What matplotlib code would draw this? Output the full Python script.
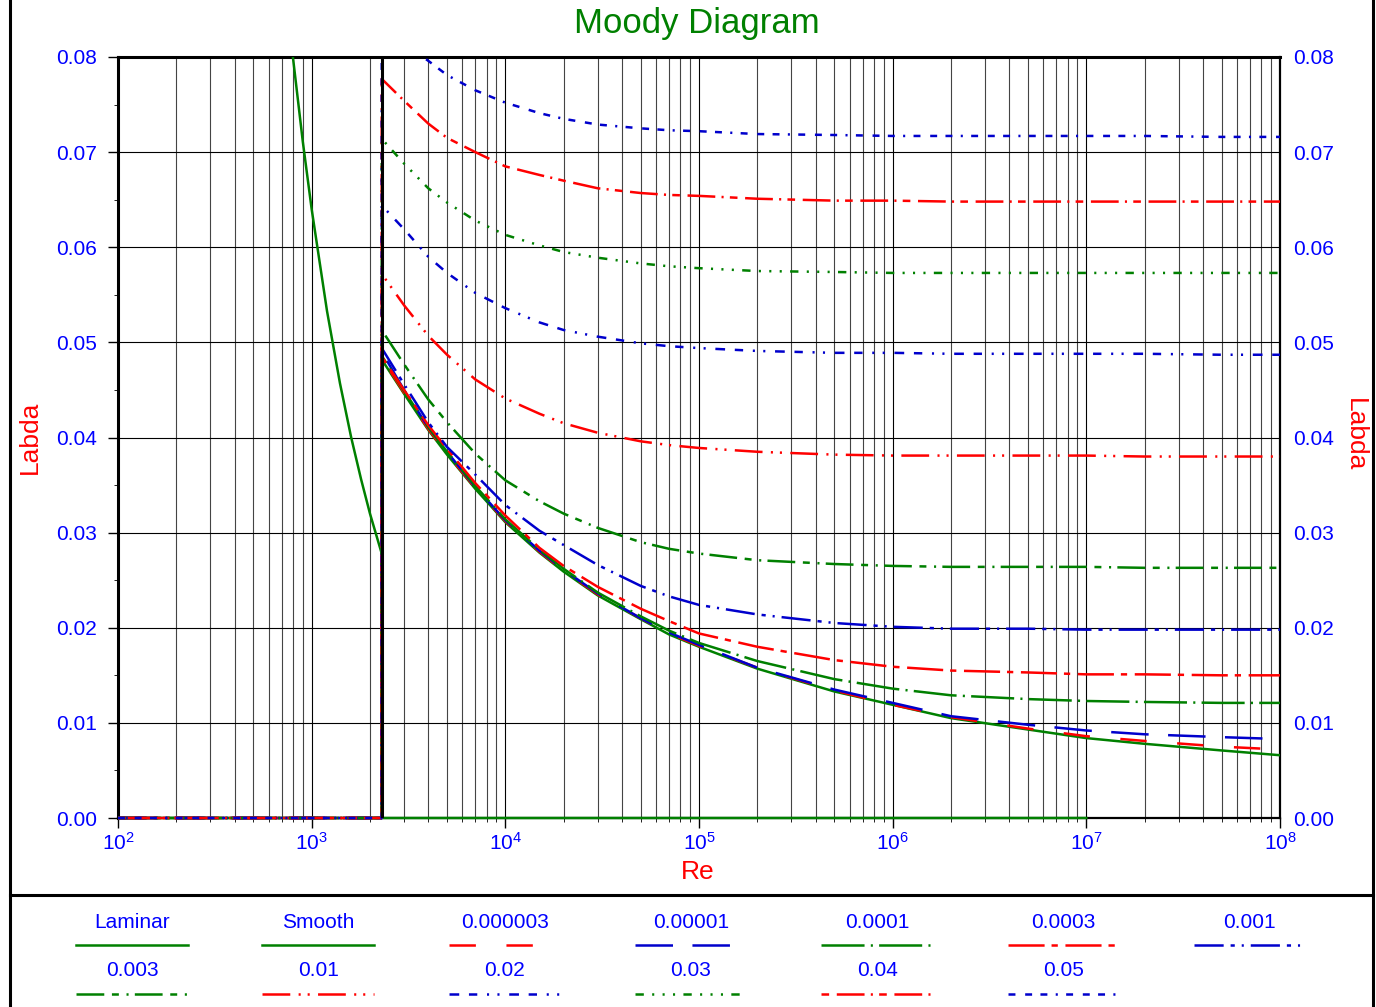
import matplotlib
matplotlib.use("Agg")
import matplotlib.pyplot as plt
from matplotlib.lines import Line2D
from matplotlib.patches import Rectangle
from matplotlib.ticker import FixedLocator, LogLocator, MultipleLocator, NullFormatter, FormatStrFormatter

plt.rcParams['font.family'] = ['Liberation Sans', 'DejaVu Sans']
plt.rcParams['mathtext.fontset'] = 'custom'
plt.rcParams['mathtext.rm'] = 'Liberation Sans'
plt.rcParams['mathtext.it'] = 'Liberation Sans:italic'
plt.rcParams['mathtext.bf'] = 'Liberation Sans:bold'
plt.rcParams['lines.scale_dashes'] = False

# --- data ---
re_crit = 2300
re_zero = [100, 2300]          # turbulent curves sit on 0 below re_crit
re_decades = [1e2, 1e3, 1e4, 1e5, 1e6, 1e7, 1e8]

re_laminar = [100, 200, 400, 600, 700, 800, 900, 1000, 1200, 1400, 1600, 1800, 2000, 2300, 2300, 1e7]
lam_laminar = [0.64, 0.32, 0.16, 0.107, 0.0914, 0.080, 0.0711, 0.064, 0.0533, 0.0457,
               0.040, 0.0356, 0.032, 0.0278, 0.0, 0.0]

re_turb = [2300, 3000, 4000, 5000, 7000, 1e4, 1.5e4, 2e4, 3e4, 5e4, 7e4,
           1e5, 2e5, 5e5, 1e6, 2e6, 5e6, 1e7, 2e7, 5e7, 1e8]

lam_smooth = [.0482, .0446, .0408, .0382, .0346, .0311, .0279, .0259, .0234, .0209, .0193,
              .0180, .0157, .0133, .0119, .0105, .0093, .0084, .0078, .0071, .0066]
lam_3e6 = [.0484, .0447, .0409, .0383, .0347, .0312, .0280, .0260, .0235, .0210, .0194,
           .0181, .0158, .0134, .0119, .0106, .0094, .0086, .0081, .0075, .0072]
lam_1e5 = [.0490, .0450, .0411, .0385, .0348, .0313, .0281, .0261, .0236, .0210, .0195,
           .0182, .0158, .0135, .0121, .0107, .0098, .0092, .0088, .0085, .0083]
lam_1e4 = [.0486, .0449, .0411, .0385, .0349, .0314, .0282, .0262, .0237, .0212, .0197,
           .0184, .0165, .0146, .0136, .0129, .0125, .0123, .0122, .0121, .0121]
lam_3e4 = [.0485, .0450, .0413, .0388, .0352, .0318, .0284, .0265, .0243, .0220, .0207,
           .0194, .0180, .0166, .0159, .0155, .0153, .0151, .0151, .0150, .0150]
lam_1e3 = [.0494, .0456, .0416, .0390, .0361, .0329, .0302, .0287, .0266, .0244, .0233,
           .0224, .0214, .0205, .0201, .0199, .0199, .0198, .0198, .0198, .0198]
lam_3e3 = [.0513, .0477, .0440, .0416, .0383, .0355, .0333, .0320, .0305, .0290, .0283,
           .0278, .0271, .0267, .0265, .0264, .0264, .0264, .0263, .0263, .0263]
lam_1e2 = [.0572, .0539, .0507, .0487, .0461, .0441, .0425, .0415, .0405, .0396, .0392,
           .0389, .0385, .0382, .0381, .0381, .0381, .0381, .0380, .0380, .0380]
lam_2e2 = [.0644, .0619, .0590, .0573, .0552, .0536, .0521, .0513, .0506, .0499, .0496,
           .0494, .0491, .0489, .0489, .0488, .0488, .0488, .0488, .0487, .0487]
lam_3e2 = [.0714, .0688, .0662, .0647, .0628, .0613, .0602, .0595, .0589, .0583, .0580,
           .0578, .0575, .0574, .0573, .0573, .0573, .0573, .0573, .0573, .0573]
lam_4e2 = [.0777, .0754, .0730, .0715, .0700, .0685, .0676, .0670, .0662, .0657, .0655,
           .0654, .0651, .0649, .0649, .0648, .0648, .0648, .0648, .0648, .0648]
lam_5e2 = [.0833, .0814, .0796, .0781, .0765, .0752, .0741, .0735, .0729, .0725, .0723,
           .0722, .0719, .0718, .0717, .0717, .0717, .0717, .0717, .0716, .0716]

GREEN = '#008000'
RED = '#ff0000'
BLUE = '#0000cc'
TXT_BLUE = '#0000ff'

turb = [
    ("Smooth", lam_smooth, GREEN, '-'),
    ("0.000003", lam_3e6, RED, (0, (19, 22))),
    ("0.00001", lam_1e5, BLUE, (0, (27, 14))),
    ("0.0001", lam_1e4, GREEN, (0, (31, 4.5, 1.5, 4.5))),
    ("0.0003", lam_3e4, RED, (0, (26, 5, 4.5, 5.5))),
    ("0.001", lam_1e3, BLUE, (0, (21, 5, 3, 5, 1.5, 5))),
    ("0.003", lam_3e3, GREEN, (0, (20, 5.5, 5, 5.5, 1.5, 4.5))),
    ("0.01", lam_1e2, RED, (0, (20, 6, 1.5, 5, 1.5, 6))),
    ("0.02", lam_2e2, BLUE, (0, (7, 7, 6, 7, 1.5, 6, 1.5, 7))),
    ("0.03", lam_3e2, GREEN, (0, (6, 6, 1.5, 6, 1.5, 6, 1.5, 6))),
    ("0.04", lam_4e2, RED, (0, (5.5, 5.5, 20, 4.5, 1.5, 4.5))),
    ("0.05", lam_5e2, BLUE, (0, (5, 7, 5, 6, 5, 6, 1.5, 6))),
]

W, H = 1376, 1007
LW = 1.8

fig = plt.figure(figsize=(W / 100, H / 100), dpi=100)
ax = fig.add_axes([118 / W, 1 - 818 / H, (1280 - 118) / W, (818 - 57) / H])

# clip box a little deeper than the axes so the zero lines show in full
clip = Rectangle((0, -0.01), 1, 1.01, transform=ax.transAxes, fill=False, visible=False)
ax.add_patch(clip)

# curves
ln, = ax.plot(re_laminar, lam_laminar, color=GREEN, lw=LW, zorder=3)
ln.set_clip_path(clip)
for label, vals, color, ls in turb:
    ln, = ax.plot(re_zero + re_turb, [0, 0] + vals, color=color, lw=LW, linestyle=ls,
                  dash_capstyle='butt', zorder=3)
    ln.set_clip_path(clip)
ax.axvline(re_crit, color='black', lw=2.2, zorder=3.5)

ax.set_xscale('log')
ax.set_xlim(1e2, 1e8)
ax.set_ylim(0, 0.08)
ax.xaxis.set_major_locator(FixedLocator(re_decades))
ax.xaxis.set_minor_locator(LogLocator(base=10, subs=range(2, 10), numticks=100))
ax.xaxis.set_minor_formatter(NullFormatter())
ax.yaxis.set_major_locator(MultipleLocator(0.01))
ax.yaxis.set_minor_locator(MultipleLocator(0.005))
ax.yaxis.set_major_formatter(FormatStrFormatter('%.2f'))

ax.set_axisbelow(True)
ax.grid(which='major', axis='both', color='black', lw=0.8)
ax.grid(which='minor', axis='x', color='#444444', lw=0.8)

ax.tick_params(axis='y', which='major', direction='out', length=7, width=1, pad=8,
               labelsize=15, labelcolor=TXT_BLUE, left=True, right=False)
ax.tick_params(axis='y', which='minor', direction='out', length=3, left=True, right=False)
ax.tick_params(axis='x', which='major', direction='out', length=7, width=1, pad=3,
               labelsize=15, labelcolor=TXT_BLUE, top=False)
ax.tick_params(axis='x', which='minor', direction='out', length=3, top=False)

for side, w in [('left', 2.2), ('top', 2.2), ('right', 1.6), ('bottom', 1.6)]:
    ax.spines[side].set_linewidth(w)

# right-hand labels without ticks
ax2 = ax.twinx()
ax2.set_ylim(0, 0.08)
ax2.yaxis.set_major_locator(MultipleLocator(0.01))
ax2.yaxis.set_major_formatter(FormatStrFormatter('%.2f'))
ax2.tick_params(axis='y', length=0, pad=9.5, labelsize=15, labelcolor=TXT_BLUE)
ax2.tick_params(axis='x', which='both', bottom=False, top=False, labelbottom=False, labeltop=False)
for s in ax2.spines.values():
    s.set_visible(False)

# titles
fig.text(697 / W, 1 - 23 / H, "Moody Diagram", color=GREEN, fontsize=25, ha='center', va='center')
fig.text(698 / W, 1 - 872 / H, "Re", color=RED, fontsize=19, ha='center', va='center')
fig.text(30 / W, 1 - 437 / H, "Labda", color=RED, fontsize=19, rotation=90, ha='center', va='center')
fig.text(1355 / W, 1 - 435 / H, "Labda", color=RED, fontsize=19, rotation=270, ha='center', va='center')

# outer frame
frame = dict(color='black', lw=2.2, transform=fig.transFigure)
fig.add_artist(Line2D([10 / W, 10 / W], [0, 1], **frame))
fig.add_artist(Line2D([1373 / W, 1373 / W], [0, 1], **frame))
fig.add_artist(Line2D([10 / W, 1373 / W], [1 - 895 / H, 1 - 895 / H], **frame))

# legend block
legend_items = [("Laminar", GREEN, '-')] + [(lab, c, ls) for lab, _, c, ls in turb]
for i, (label, color, ls) in enumerate(legend_items):
    row, col = divmod(i, 7)
    cx = 132 + col * 186.3
    ty = 922 + row * 49
    ly = 945 + row * 49
    fig.text(cx / W, 1 - ty / H, label, color=TXT_BLUE, fontsize=15, ha='center', va='center')
    fig.add_artist(Line2D([(cx - 56) / W, (cx + 56) / W], [1 - ly / H, 1 - ly / H],
                          color=color, lw=LW, linestyle=ls, dash_capstyle='butt',
                          transform=fig.transFigure))

fig.savefig("out.png", dpi=100)
